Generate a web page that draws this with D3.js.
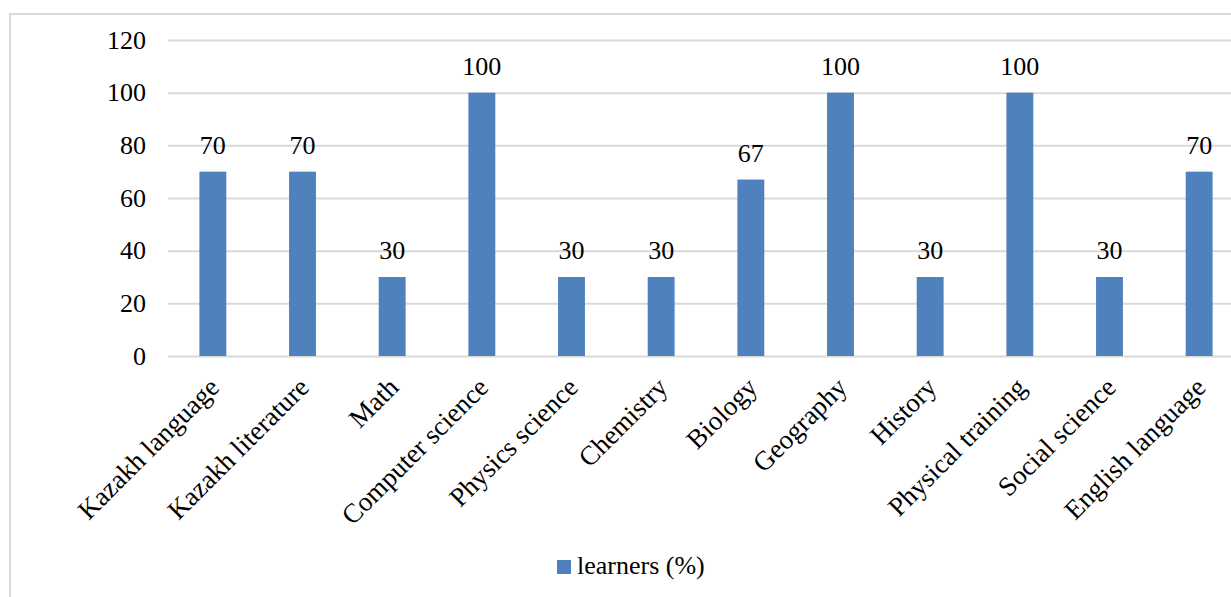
<!DOCTYPE html>
<html>
<head>
<meta charset="utf-8">
<script src="https://cdn.jsdelivr.net/npm/d3@7"></script>
<style>
  html, body { margin: 0; padding: 0; background: #fff; }
  svg { display: block; }
  text { font-family: "Liberation Serif", "Times New Roman", serif; fill: #000; }
</style>
</head>
<body>
<svg id="chart" width="1231" height="597"></svg>
<script>
// Share of learners per school subject
const subjects = [
  "Kazakh language", "Kazakh literature", "Math", "Computer science",
  "Physics science", "Chemistry", "Biology", "Geography",
  "History", "Physical training", "Social science", "English language"
];
const learnersPct = [70, 70, 30, 100, 30, 30, 67, 100, 30, 100, 30, 70];
const yTicks = [0, 20, 40, 60, 80, 100, 120];
const seriesName = "learners (%)";

const barColor = "#4f81bd";
const gridColor = "#d9d9d9";
const fontSize = 26;
const catFontSize = 27;

const svg = d3.select("#chart");

// chart frame (open on the right and bottom edges)
svg.append("path")
  .attr("d", "M1240,14 H10 V600")
  .attr("fill", "none")
  .attr("stroke", gridColor)
  .attr("stroke-width", 2);

const plotLeft = 168, plotRight = 1244, plotTop = 40, plotBottom = 356;

const x = d3.scaleBand()
  .domain(subjects)
  .range([plotLeft, plotRight])
  .paddingInner(0.7)
  .paddingOuter(0.35);

const y = d3.scaleLinear()
  .domain([0, 120])
  .range([plotBottom, plotTop]);

// horizontal gridlines + value labels
const yAxis = d3.axisLeft(y)
  .tickValues(yTicks)
  .tickSize(-(plotRight - plotLeft))
  .tickPadding(22)
  .tickFormat(d3.format("d"));

const gAxis = svg.append("g")
  .attr("transform", `translate(${plotLeft},0)`)
  .call(yAxis);
gAxis.select(".domain").remove();
gAxis.selectAll(".tick line")
  .attr("stroke", gridColor)
  .attr("stroke-width", 2);
gAxis.selectAll(".tick text")
  .style("font-family", '"Liberation Serif", "Times New Roman", serif')
  .style("font-size", fontSize + "px")
  .attr("fill", "#000");

// bars
svg.append("g").selectAll("rect")
  .data(subjects)
  .join("rect")
  .attr("x", d => x(d))
  .attr("width", x.bandwidth())
  .attr("y", (d, i) => y(learnersPct[i]))
  .attr("height", (d, i) => y(0) - y(learnersPct[i]))
  .attr("fill", barColor);

// value labels above bars
svg.append("g").selectAll("text")
  .data(subjects)
  .join("text")
  .attr("x", d => x(d) + x.bandwidth() / 2)
  .attr("y", (d, i) => y(learnersPct[i]) - 18)
  .attr("text-anchor", "middle")
  .style("font-size", fontSize + "px")
  .text((d, i) => learnersPct[i]);

// rotated category labels
svg.append("g").selectAll("text")
  .data(subjects)
  .join("text")
  .attr("transform", d => `translate(${x(d) + x.bandwidth() / 2 + 8},${plotBottom + 33}) rotate(-45)`)
  .attr("text-anchor", "end")
  .style("font-size", catFontSize + "px")
  .text(d => d);

// legend
const legend = svg.append("g").attr("transform", "translate(557,560)");
legend.append("rect")
  .attr("width", 14)
  .attr("height", 14)
  .attr("fill", barColor);
legend.append("text")
  .attr("x", 20)
  .attr("y", 14)
  .style("font-size", fontSize + "px")
  .text(seriesName);
</script>
</body>
</html>
